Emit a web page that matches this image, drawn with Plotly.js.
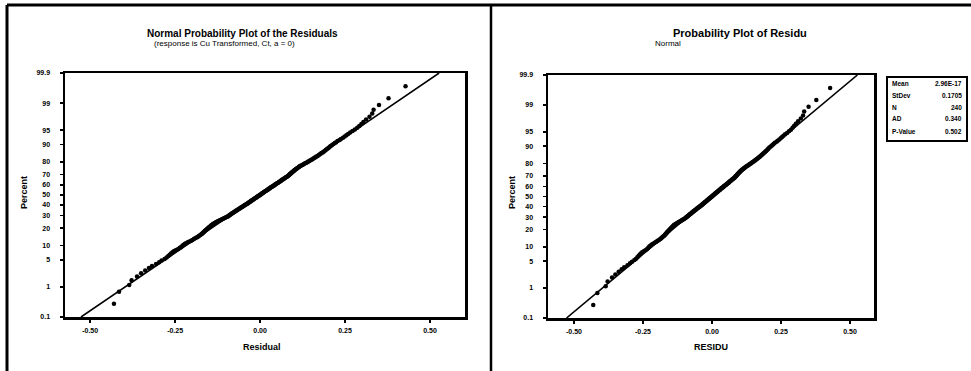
<!DOCTYPE html>
<html>
<head>
<meta charset="utf-8">
<script src="https://cdn.plot.ly/plotly-3.0.1.min.js"></script>
<style>
  html, body { margin: 0; padding: 0; background: #ffffff; }
  #chart { width: 971px; height: 371px; }
</style>
</head>
<body>
<div id="chart"></div>
<script>
// ---- data (sorted residuals, both panels show the same residuals) ----
const residuals = [
  -0.430,-0.415,-0.385,-0.378,-0.362,-0.350,-0.338,-0.327,-0.318,-0.306,
  -0.297,-0.290,-0.281,-0.275,-0.270,-0.266,-0.262,-0.258,-0.253,-0.247,
  -0.241,-0.236,-0.232,-0.229,-0.226,-0.222,-0.218,-0.213,-0.208,-0.203,
  -0.199,-0.195,-0.191,-0.187,-0.184,-0.181,-0.178,-0.175,-0.172,-0.170,
  -0.168,-0.166,-0.164,-0.162,-0.160,-0.158,-0.156,-0.154,-0.152,-0.150,
  -0.148,-0.146,-0.144,-0.142,-0.140,-0.138,-0.136,-0.133,-0.130,-0.127,
  -0.124,-0.121,-0.118,-0.115,-0.112,-0.109,-0.106,-0.103,-0.100,-0.097,
  -0.095,-0.093,-0.091,-0.089,-0.087,-0.085,-0.083,-0.081,-0.079,-0.077,
  -0.075,-0.073,-0.071,-0.069,-0.067,-0.065,-0.063,-0.061,-0.059,-0.057,
  -0.055,-0.053,-0.051,-0.049,-0.047,-0.045,-0.043,-0.041,-0.039,-0.037,
  -0.035,-0.034,-0.032,-0.030,-0.028,-0.027,-0.025,-0.023,-0.021,-0.019,
  -0.018,-0.016,-0.014,-0.012,-0.010,-0.009,-0.007,-0.005,-0.003,-0.001,
  0.000,0.002,0.004,0.005,0.007,0.009,0.011,0.012,0.014,0.016,
  0.018,0.020,0.022,0.023,0.025,0.027,0.029,0.030,0.032,0.034,
  0.036,0.038,0.040,0.042,0.043,0.045,0.047,0.049,0.051,0.053,
  0.055,0.057,0.059,0.061,0.062,0.064,0.066,0.068,0.070,0.072,
  0.074,0.076,0.078,0.080,0.082,0.084,0.085,0.087,0.088,0.090,
  0.091,0.093,0.094,0.096,0.098,0.100,0.101,0.103,0.105,0.107,
  0.109,0.111,0.114,0.116,0.118,0.121,0.124,0.127,0.130,0.133,
  0.136,0.139,0.142,0.145,0.148,0.151,0.154,0.157,0.160,0.163,
  0.166,0.169,0.172,0.175,0.178,0.181,0.184,0.187,0.190,0.193,
  0.196,0.199,0.202,0.205,0.208,0.212,0.216,0.220,0.224,0.228,
  0.234,0.238,0.244,0.249,0.254,0.259,0.265,0.272,0.279,0.286,
  0.292,0.298,0.304,0.312,0.322,0.330,0.334,0.350,0.378,0.428
];

const fitMean = 0.0;
const fitStDev = 0.1705;

// legend box of the right panel
const statLabels = ["Mean", "StDev", "N", "AD", "P-Value"];
const statValues = ["2.96E-17", "0.1705", "240", "0.340", "0.502"];

// tick labels
const percentTicks = [0.1, 1, 5, 10, 20, 30, 40, 50, 60, 70, 80, 90, 95, 99, 99.9];
const percentTickLabels = ["0.1", "1", "5", "10", "20", "30", "40", "50", "60", "70", "80", "90", "95", "99", "99.9"];
const residTicks = [-0.50, -0.25, 0.00, 0.25, 0.50];
const residTickLabels = ["-0.50", "-0.25", "0.00", "0.25", "0.50"];

// titles
const leftTitle = "Normal Probability Plot of the Residuals";
const leftSubtitle = "(response is Cu Transformed, Ct, a = 0)";
const rightTitle = "Probability Plot of Residu";
const rightSubtitle = "Normal";
const yLabel = "Percent";
const leftXLabel = "Residual";
const rightXLabel = "RESIDU";

// ---- normal quantile function (probability scale) ----
function invNorm(p) {
  const a=[-3.969683028665376e+01,2.209460984245205e+02,-2.759285104469687e+02,1.383577518672690e+02,-3.066479806614716e+01,2.506628277459239e+00];
  const b=[-5.447609879822406e+01,1.615858368580409e+02,-1.556989798598866e+02,6.680131188771972e+01,-1.328068155288572e+01];
  const c=[-7.784894002430293e-03,-3.223964580411365e-01,-2.400758277161838e+00,-2.549732539343734e+00,4.374664141464968e+00,2.938163982698783e+00];
  const d=[7.784695709041462e-03,3.224671290700398e-01,2.445134137142996e+00,3.754408661907416e+00];
  const pl = 0.02425, ph = 1 - pl;
  let q, r;
  if (p < pl) {
    q = Math.sqrt(-2*Math.log(p));
    return (((((c[0]*q+c[1])*q+c[2])*q+c[3])*q+c[4])*q+c[5])/((((d[0]*q+d[1])*q+d[2])*q+d[3])*q+1);
  }
  if (p <= ph) {
    q = p - 0.5; r = q*q;
    return (((((a[0]*r+a[1])*r+a[2])*r+a[3])*r+a[4])*r+a[5])*q/(((((b[0]*r+b[1])*r+b[2])*r+b[3])*r+b[4])*r+1);
  }
  q = Math.sqrt(-2*Math.log(1-p));
  return -(((((c[0]*q+c[1])*q+c[2])*q+c[3])*q+c[4])*q+c[5])/((((d[0]*q+d[1])*q+d[2])*q+d[3])*q+1);
}

const n = residuals.length;
const sorted = residuals.slice().sort((u, v) => u - v);
const plotPos = sorted.map((_, i) => invNorm((i + 1 - 0.3) / (n + 0.4)));
const zLo = invNorm(percentTicks[0] / 100);
const zHi = invNorm(percentTicks[percentTicks.length - 1] / 100);
const lineZ = [zLo, zHi];
const lineX = lineZ.map(z => fitMean + z * fitStDev);
const yTickVals = percentTicks.map(p => invNorm(p / 100));

// ---- pixel helpers for a 971 x 371 paper with zero margins ----
const W = 971, H = 371;
const px = x => x / W;
const py = y => 1 - y / H;

const FONT = "Liberation Sans, Arial, sans-serif";
const black = "#000000";

const markerStyle = { color: black, size: 4.5, symbol: "circle" };
const lineStyle = { color: black, width: 1.6 };

const traces = [
  { x: sorted, y: plotPos, type: "scatter", mode: "markers", marker: markerStyle, xaxis: "x", yaxis: "y", hoverinfo: "skip" },
  { x: lineX, y: lineZ, type: "scatter", mode: "lines", line: lineStyle, xaxis: "x", yaxis: "y", hoverinfo: "skip" },
  { x: sorted, y: plotPos, type: "scatter", mode: "markers", marker: markerStyle, xaxis: "x2", yaxis: "y2", hoverinfo: "skip" },
  { x: lineX, y: lineZ, type: "scatter", mode: "lines", line: lineStyle, xaxis: "x2", yaxis: "y2", hoverinfo: "skip" }
];

const tickFont = { family: FONT, size: 7, color: black, weight: "bold" };

function xAxis(domain, range, anchor) {
  return {
    domain: domain, range: range, anchor: anchor,
    tickmode: "array", tickvals: residTicks, ticktext: residTickLabels,
    ticks: "outside", ticklen: 3, tickwidth: 1.5, tickcolor: black,
    showline: true, linewidth: 2.5, linecolor: black, mirror: true,
    showgrid: false, zeroline: false, tickfont: tickFont, ticklabelstandoff: 2
  };
}
function yAxis(domain, anchor) {
  return {
    domain: domain, range: [zLo, zHi], anchor: anchor,
    tickmode: "array", tickvals: yTickVals, ticktext: percentTickLabels,
    ticks: "outside", ticklen: 3, tickwidth: 1.5, tickcolor: black,
    showline: true, linewidth: 2.5, linecolor: black, mirror: true,
    showgrid: false, zeroline: false, tickfont: tickFont, ticklabelstandoff: 8
  };
}

const annotations = [];
function addText(text, x, y, size, opts) {
  annotations.push(Object.assign({
    text: text, x: px(x), y: py(y), xref: "paper", yref: "paper",
    xanchor: "center", yanchor: "middle", showarrow: false,
    font: { family: FONT, size: size, color: black }
  }, opts || {}));
}
addText("<b>" + leftTitle + "</b>", 242, 33, 10);
addText(leftSubtitle, 224, 44, 8);
addText("<b>" + rightTitle + "</b>", 740, 33, 11);
addText(rightSubtitle, 668, 43, 8);
addText("<b>" + yLabel + "</b>", 24, 193, 9, { textangle: -90 });
addText("<b>" + yLabel + "</b>", 512, 193, 9, { textangle: -90 });
addText("<b>" + leftXLabel + "</b>", 262, 347, 9);
addText("<b>" + rightXLabel + "</b>", 711, 347, 9);

const rowY = [83, 95, 107, 119, 131];
statLabels.forEach((lab, i) => {
  addText("<b>" + lab + "</b>", 890, rowY[i], 6.5, { xanchor: "left" });
  addText("<b>" + statValues[i] + "</b>", 964, rowY[i], 6.5, { xanchor: "right" });
});

const shapes = [
  { type: "line", xref: "paper", yref: "paper", x0: px(7), x1: 1, y0: py(5), y1: py(5), line: { color: black, width: 3 } },
  { type: "line", xref: "paper", yref: "paper", x0: px(7), x1: px(7), y0: 0, y1: py(5), line: { color: black, width: 3 } },
  { type: "line", xref: "paper", yref: "paper", x0: px(491), x1: px(491), y0: 0, y1: py(5), line: { color: black, width: 2.5 } },
  { type: "rect", xref: "paper", yref: "paper", x0: px(887), x1: px(967), y0: py(141), y1: py(77), line: { color: black, width: 2 }, fillcolor: "rgba(0,0,0,0)" }
];

const layout = {
  width: W, height: H,
  margin: { l: 0, r: 0, t: 0, b: 0, pad: 0 },
  paper_bgcolor: "#ffffff", plot_bgcolor: "#ffffff",
  showlegend: false,
  xaxis: xAxis([px(65), px(465)], [-0.574, 0.603], "y"),
  yaxis: yAxis([py(317), py(73)], "x"),
  xaxis2: xAxis([px(548), px(874)], [-0.594, 0.587], "y2"),
  yaxis2: yAxis([py(318), py(75)], "x2"),
  annotations: annotations,
  shapes: shapes,
  font: { family: FONT, color: black }
};

Plotly.newPlot("chart", traces, layout, { staticPlot: true, displayModeBar: false });
</script>
</body>
</html>
